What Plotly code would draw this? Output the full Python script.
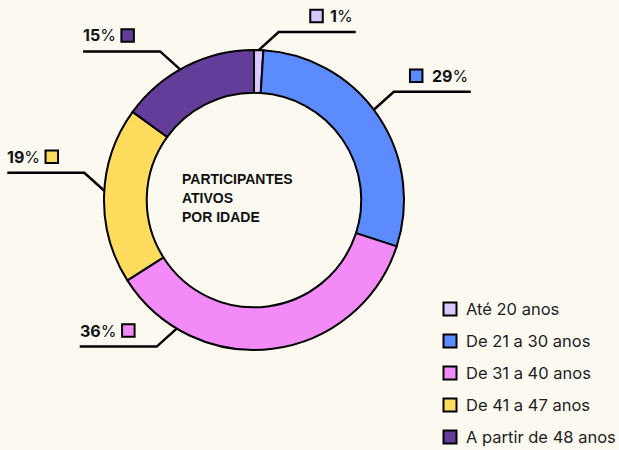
import math
import plotly.graph_objects as go

# ---- data ----
categories = ["Até 20 anos", "De 21 a 30 anos", "De 31 a 40 anos", "De 41 a 47 anos", "A partir de 48 anos"]
values = [1, 29, 36, 19, 15]
colors = ["#D9C7FF", "#5B8BFF", "#F28AF7", "#FFDB5E", "#643C99"]
center_title = ["PARTICIPANTES", "ATIVOS", "POR IDADE"]

# ---- layout constants (pixels) ----
W, H = 619, 450
CX, CY, R = 254, 200, 150
HOLE = 0.715
BG = "#FCF9F1"
label_side = [1, 1, -1, -1, -1]
label_vdir = [-1, -1, 1, -1, -1]
# leader anchor angle (deg clockwise from 12 o'clock); None = middle of the slice
label_anchor = [None, 53, 211, 273.5, 330.5]
LABEL_SIZE = 16
CHAR_W = {"1": 7.2, "%": 15.0}


def text_w(s):
    return sum(CHAR_W.get(ch, 11.3) for ch in s)


fig = go.Figure()

fig.add_trace(go.Pie(
    labels=categories, values=values, sort=False, direction="clockwise", rotation=0,
    hole=HOLE, marker=dict(colors=colors, line=dict(color="#000000", width=2)),
    textinfo="none", hoverinfo="skip", showlegend=False,
    domain=dict(x=[(CX - R) / W, (CX + R) / W], y=[(H - CY - R) / H, (H - CY + R) / H]),
))

shapes = []
annotations = []
sq_x, sq_y, sq_c = [], [], []

total = sum(values)
cum = 0
for i, v in enumerate(values):
    mid = (cum + v / 2) / total * 360
    cum += v
    ang = label_anchor[i] if label_anchor[i] is not None else mid
    a = math.radians(ang)
    ax_, ay_ = CX + R * math.sin(a), CY - R * math.cos(a)
    side, vdir = label_side[i], label_vdir[i]
    ex, ey = ax_ + side * 20, ay_ + vdir * 18
    fx = ex + side * 77
    shapes.append(dict(type="path", xref="x", yref="y",
                       path=f"M {ax_:.1f} {ay_:.1f} L {ex:.1f} {ey:.1f} L {fx:.1f} {ey:.1f}",
                       line=dict(color="#000000", width=2.5)))
    tw = text_w(f"{v}%")
    ty = ey - 16
    if side > 0:
        annotations.append(dict(x=fx - 1, y=ty, xref="x", yref="y", xanchor="right", yanchor="middle",
                                text=f"<b>{v}</b>%", showarrow=False,
                                font=dict(family="Inter", size=LABEL_SIZE, color="#111111")))
        sq_x.append(fx - 1 - tw - 16)
    else:
        annotations.append(dict(x=fx - 2, y=ty, xref="x", yref="y", xanchor="left", yanchor="middle",
                                text=f"<b>{v}</b>%", showarrow=False,
                                font=dict(family="Inter", size=LABEL_SIZE, color="#111111")))
        sq_x.append(fx - 2 + tw + 13)
    sq_y.append(ty)
    sq_c.append(colors[i])

fig.add_trace(go.Scatter(
    x=sq_x, y=sq_y, mode="markers", hoverinfo="skip", showlegend=False,
    marker=dict(symbol="square", size=12.5, color=sq_c, line=dict(color="#000000", width=2)),
))

# custom legend
LX, LY0, LDY = 450, 309, 32
fig.add_trace(go.Scatter(
    x=[LX] * len(categories), y=[LY0 + LDY * i for i in range(len(categories))],
    mode="markers", hoverinfo="skip", showlegend=False,
    marker=dict(symbol="square", size=13, color=colors, line=dict(color="#000000", width=2)),
))
for i, c in enumerate(categories):
    annotations.append(dict(x=LX + 14, y=LY0 + LDY * i, xref="x", yref="y", xanchor="left",
                            yanchor="middle", text=c, showarrow=False,
                            font=dict(family="Inter", size=16.5, color="#1E1E1E")))

# center title
for j, line in enumerate(center_title):
    annotations.append(dict(x=180, y=179 + 19 * j, xref="x", yref="y", xanchor="left", yanchor="middle",
                            text=f"<b>{line}</b>", showarrow=False,
                            font=dict(family="Liberation Sans", size=14, color="#111111")))

fig.update_layout(
    width=W, height=H, margin=dict(l=0, r=0, t=0, b=0),
    paper_bgcolor=BG, plot_bgcolor=BG,
    xaxis=dict(range=[0, W], visible=False, fixedrange=True),
    yaxis=dict(range=[H, 0], visible=False, fixedrange=True),
    shapes=shapes, annotations=annotations,
)

fig.write_html("out.html", config={"displayModeBar": False},
               post_script="document.body.style.margin='0';document.body.style.overflow='hidden';")
